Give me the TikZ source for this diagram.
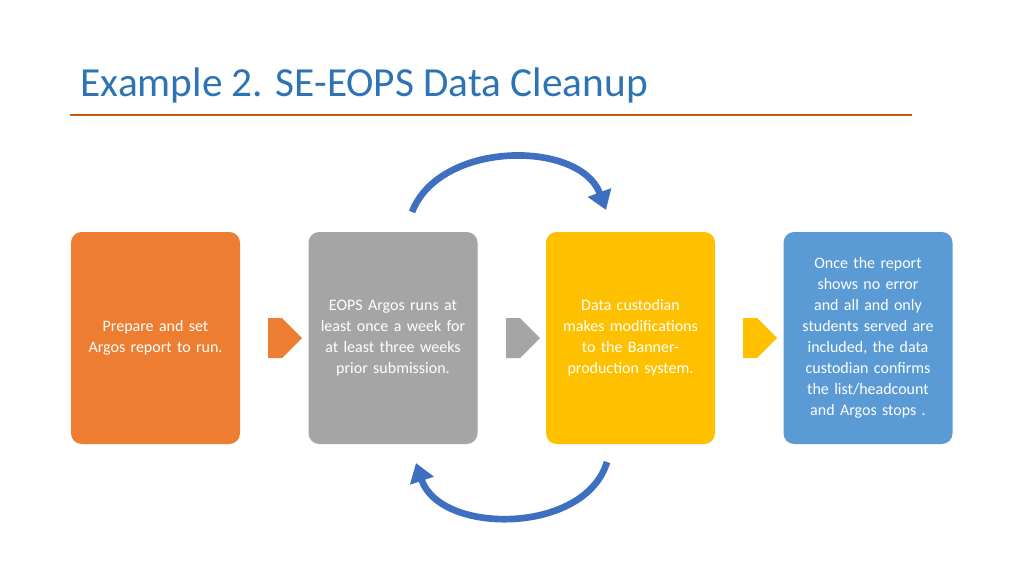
\documentclass[tikz,border=0pt]{standalone}
\usepackage{fontspec}
\setmainfont{Carlito}
\usetikzlibrary{shapes.arrows,arrows.meta}
\definecolor{titleblue}{HTML}{2E74B5}
\definecolor{rulered}{HTML}{C55A11}
\definecolor{boxorange}{HTML}{ED7D31}
\definecolor{boxgray}{HTML}{A5A5A5}
\definecolor{boxyellow}{HTML}{FFC000}
\definecolor{boxblue}{HTML}{5B9BD5}
\definecolor{loopblue}{HTML}{3F6FC0}
\tikzset{
  stepbox/.style={rounded corners=8pt,minimum width=126.75pt,minimum height=159pt,
    text width=110pt,align=center,text=white,font=\fontsize{12}{15.75}\selectfont},
  blockarrow/.style={single arrow,minimum height=25.5pt,minimum width=30pt,
    single arrow head extend=0pt,inner sep=0pt},
  loop/.style={loopblue,line width=5pt,-{Triangle[length=14pt,width=18pt]}}
}
\begin{document}
\begin{tikzpicture}[x=0.75pt,y=-0.75pt]
  \useasboundingbox (0,0) rectangle (1024,576);
  \node[anchor=west,text=titleblue,font=\fontsize{31}{36}\selectfont] (title) at (76,85) {Example 2. SE-EOPS Data Cleanup};
  \draw[rulered,line width=1.2pt] (70,115) -- (912,115);
  % boxes
  \node[stepbox,fill=boxorange] (prep) at (155.5,338) {Prepare and set Argos report to run.};
  \node[stepbox,fill=boxgray] (runs) at (393,338) {EOPS Argos runs at least once a week for at least three weeks prior submission.};
  \node[stepbox,fill=boxyellow] (cust) at (630.5,338) {Data custodian makes modifications to the Banner-production system.};
  \node[stepbox,fill=boxblue] (done) at (868,338) {Once the report shows no error and all and only students served are included, the data custodian confirms the list/headcount and Argos stops .};
  % small arrows
  \node[blockarrow,fill=boxorange] (a1) at (275,338) {};
  \node[blockarrow,fill=boxgray] (a2) at (513,338) {};
  \node[blockarrow,fill=boxyellow] (a3) at (750,338) {};
  % loops
  \draw[loop] (412,212) .. controls (440,140) and (580,140) .. (606,210);
  \draw[loop] (607,462) .. controls (585,535) and (440,535) .. (416,463);
\end{tikzpicture}
\end{document}
